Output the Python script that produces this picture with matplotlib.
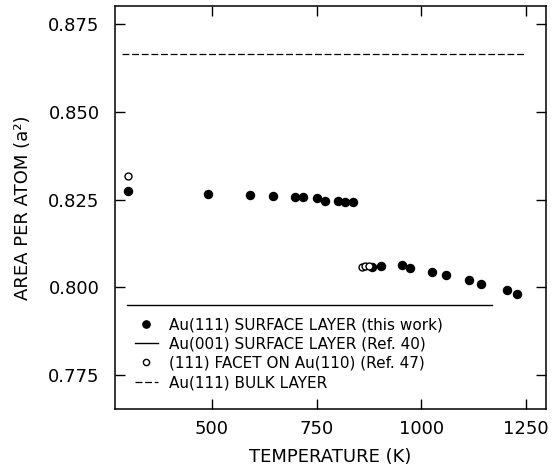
import numpy as np
import matplotlib
matplotlib.use("Agg")
from matplotlib import pyplot as plt

# Au(111) surface layer (this work)
temp_surface = [300, 490, 590, 645, 698, 718, 750, 770, 801, 817, 838,
                883, 905, 953, 973, 1026, 1060, 1114, 1144, 1205, 1228]
area_surface = [0.8273, 0.8267, 0.8264, 0.8261, 0.8257, 0.8256, 0.8254,
                0.8247, 0.8247, 0.8244, 0.8242, 0.8059, 0.8060, 0.8064,
                0.8055, 0.8044, 0.8036, 0.8022, 0.8010, 0.7991, 0.7982]

# (111) facet on Au(110), Ref. 47
temp_facet = [300, 858, 866, 876]
area_facet = [0.8316, 0.8058, 0.8060, 0.8060]

# Au(001) surface layer (Ref. 40) and Au(111) bulk layer
temp_001 = [297, 1170]
area_001 = [0.7949, 0.7949]
temp_bulk = [285, 1250]
area_bulk = [0.8664, 0.8664]

xticks = [500, 750, 1000, 1250]
yticks = [0.775, 0.800, 0.825, 0.850, 0.875]

plt.rcParams['font.family'] = ['DejaVu Sans']

fig = plt.figure(figsize=(5.53, 4.67), dpi=100)
ax = fig.add_axes([0.208, 0.124, 0.779, 0.863])

ax.plot(temp_surface, area_surface, 'o', color='black', markersize=5.8,
        label='Au(111) SURFACE LAYER (this work)')
ax.plot(temp_001, area_001, '-', color='black', lw=1.0,
        label='Au(001) SURFACE LAYER (Ref. 40)')
ax.plot(temp_facet, area_facet, 'o', mfc='white', mec='black', mew=1.0,
        markersize=5.0, label='(111) FACET ON Au(110) (Ref. 47)')
ax.plot(temp_bulk, area_bulk, color='black', lw=0.9, dashes=(5.5, 2.2),
        label='Au(111) BULK LAYER')

ax.set_xlim(268, 1298)
ax.set_ylim(0.7653, 0.8801)
ax.set_xticks(xticks)
ax.set_yticks(yticks)
ax.set_yticklabels(['%.3f' % v for v in yticks])

ax.tick_params(direction='in', top=True, right=True, length=7, width=1.0,
               labelsize=13)
ax.tick_params(axis='y', pad=11)
ax.tick_params(axis='x', pad=8)
for s in ax.spines.values():
    s.set_linewidth(1.1)

ax.set_xlabel('TEMPERATURE (K)', fontsize=13, labelpad=7)
ax.set_ylabel('AREA PER ATOM (a²)', fontsize=13, labelpad=12)

ax.legend(loc='upper left', bbox_to_anchor=(0.046, 0.228), frameon=False,
          borderpad=0, borderaxespad=0, fontsize=11, handlelength=1.5,
          handletextpad=0.75, labelspacing=0.28, markerscale=0.9)

fig.savefig('out.png', dpi=100)
